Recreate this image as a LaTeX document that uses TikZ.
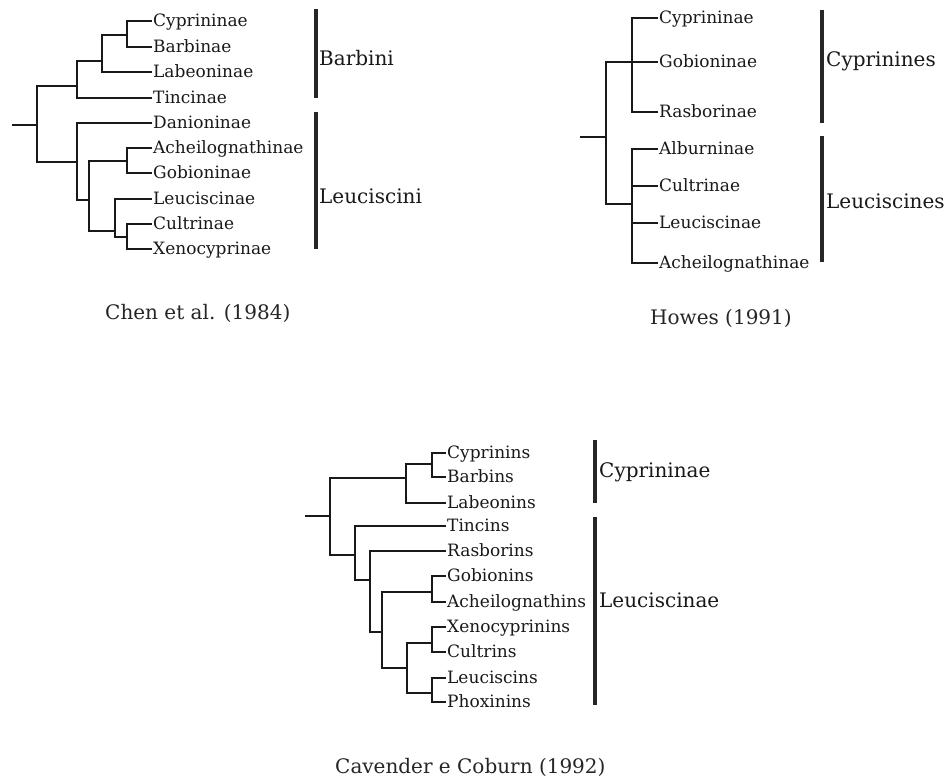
\documentclass[tikz,border=0pt]{standalone}
\usepackage{fontspec}
\setmainfont{DejaVu Serif}
\newcommand\leaffont{\fontsize{17}{20}\selectfont}
\newcommand\grpfont{\fontsize{20}{24}\selectfont}
\newcommand\myleaf[4]{\coordinate (#1) at (#2,#3); \node[leafnode] (#1t) at ([xshift=1pt,yshift=-5pt]#1) {#4};}
\tikzset{
  branch/.style={draw=black!90, line width=1.8pt},
  grpbar/.style={draw=black!85, line width=3.8pt},
  leafnode/.style={anchor=base west, inner sep=0pt, font=\leaffont, text=black!90},
  grplabel/.style={anchor=base west, inner sep=0pt, font=\grpfont, text=black!90},
  caption/.style={anchor=base west, inner sep=0pt, font=\grpfont, text=black!85}
}
\begin{document}
\begin{tikzpicture}[x=1pt,y=-1pt]
\fill[white] (0,0) rectangle (946,777);
\useasboundingbox (0,0) rectangle (946,777);

% ---------------- Tree 1: Chen et al. (1984)
\coordinate (r1s) at (12,125);
\coordinate (r1) at (37,125);
\coordinate (a1) at (77,86);
\coordinate (b1) at (102,61);
\coordinate (c1) at (127,35);
\coordinate (d1) at (77,162);
\coordinate (e1) at (89,200);
\coordinate (f1) at (127,161);
\coordinate (g1) at (115,231);
\coordinate (h1) at (127,237);
\myleaf{l1a}{152}{21}{Cyprininae}
\myleaf{l1b}{152}{47}{Barbinae}
\myleaf{l1c}{152}{72}{Labeoninae}
\myleaf{l1d}{152}{98}{Tincinae}
\myleaf{l1e}{152}{123}{Danioninae}
\myleaf{l1f}{152}{148}{Acheilognathinae}
\myleaf{l1g}{152}{173}{Gobioninae}
\myleaf{l1h}{152}{199}{Leuciscinae}
\myleaf{l1i}{152}{224}{Cultrinae}
\myleaf{l1j}{152}{249}{Xenocyprinae}
\draw[branch] (r1s) -- (r1);
\draw[branch] (r1) |- (a1);
\draw[branch] (r1) |- (d1);
\draw[branch] (a1) |- (b1);
\draw[branch] (a1) |- (l1d);
\draw[branch] (b1) |- (c1);
\draw[branch] (b1) |- (l1c);
\draw[branch] (c1) |- (l1a);
\draw[branch] (c1) |- (l1b);
\draw[branch] (d1) |- (l1e);
\draw[branch] (d1) |- (e1);
\draw[branch] (e1) |- (f1);
\draw[branch] (e1) |- (g1);
\draw[branch] (f1) |- (l1f);
\draw[branch] (f1) |- (l1g);
\draw[branch] (g1) |- (l1h);
\draw[branch] (g1) |- (h1);
\draw[branch] (h1) |- (l1i);
\draw[branch] (h1) |- (l1j);
\coordinate (bar1at) at (316,9);  \coordinate (bar1ab) at (316,98);
\coordinate (bar1bt) at (316,112); \coordinate (bar1bb) at (316,249);
\draw[grpbar] (bar1at) -- (bar1ab);
\draw[grpbar] (bar1bt) -- (bar1bb);
\node[grplabel] (g1a) at (319,65) {Barbini};
\node[grplabel] (g1b) at (319,203) {Leuciscini};
\node[caption] (cap1) at (105,319) {Chen et al. (1984)};

% ---------------- Tree 2: Howes (1991)
\coordinate (r2s) at (580,137);
\coordinate (r2) at (606,137);
\coordinate (p2) at (632,62);
\coordinate (q2) at (632,204);
\myleaf{l2a}{658}{18}{Cyprininae}
\myleaf{l2b}{658}{62}{Gobioninae}
\myleaf{l2c}{658}{112}{Rasborinae}
\myleaf{l2d}{658}{149}{Alburninae}
\myleaf{l2e}{658}{186}{Cultrinae}
\myleaf{l2f}{658}{223}{Leuciscinae}
\myleaf{l2g}{658}{263}{Acheilognathinae}
\draw[branch] (r2s) -- (r2);
\draw[branch] (r2) |- (p2);
\draw[branch] (r2) |- (q2);
\draw[branch] (p2) |- (l2a);
\draw[branch] (p2) |- (l2b);
\draw[branch] (p2) |- (l2c);
\draw[branch] (q2) |- (l2d);
\draw[branch] (q2) |- (l2e);
\draw[branch] (q2) |- (l2f);
\draw[branch] (q2) |- (l2g);
\coordinate (bar2at) at (822,10);  \coordinate (bar2ab) at (822,123);
\coordinate (bar2bt) at (822,136); \coordinate (bar2bb) at (822,262);
\draw[grpbar] (bar2at) -- (bar2ab);
\draw[grpbar] (bar2bt) -- (bar2bb);
\node[grplabel] (g2a) at (826,66) {Cyprinines};
\node[grplabel] (g2b) at (826,208) {Leuciscines};
\node[caption] (cap2) at (650,324) {Howes (1991)};

% ---------------- Tree 3: Cavender e Coburn (1992)
\coordinate (r3s) at (305,516);
\coordinate (r3) at (330,516);
\coordinate (u3) at (406,478);
\coordinate (v3) at (432,464);
\coordinate (w3) at (355,555);
\coordinate (x3) at (370,580);
\coordinate (y3) at (382,632);
\coordinate (z31) at (432,592);
\coordinate (z32) at (407,668);
\coordinate (z33) at (432,643);
\coordinate (z34) at (432,693);
\myleaf{l3a}{446}{453}{Cyprinins}
\myleaf{l3b}{446}{477}{Barbins}
\myleaf{l3c}{446}{503}{Labeonins}
\myleaf{l3d}{446}{526}{Tincins}
\myleaf{l3e}{446}{551}{Rasborins}
\myleaf{l3f}{446}{576}{Gobionins}
\myleaf{l3g}{446}{602}{Acheilognathins}
\myleaf{l3h}{446}{627}{Xenocyprinins}
\myleaf{l3i}{446}{652}{Cultrins}
\myleaf{l3j}{446}{678}{Leuciscins}
\myleaf{l3k}{446}{702}{Phoxinins}
\draw[branch] (r3s) -- (r3);
\draw[branch] (r3) |- (u3);
\draw[branch] (r3) |- (w3);
\draw[branch] (u3) |- (v3);
\draw[branch] (u3) |- (l3c);
\draw[branch] (v3) |- (l3a);
\draw[branch] (v3) |- (l3b);
\draw[branch] (w3) |- (l3d);
\draw[branch] (w3) |- (x3);
\draw[branch] (x3) |- (l3e);
\draw[branch] (x3) |- (y3);
\draw[branch] (y3) |- (z31);
\draw[branch] (y3) |- (z32);
\draw[branch] (z31) |- (l3f);
\draw[branch] (z31) |- (l3g);
\draw[branch] (z32) |- (z33);
\draw[branch] (z32) |- (z34);
\draw[branch] (z33) |- (l3h);
\draw[branch] (z33) |- (l3i);
\draw[branch] (z34) |- (l3j);
\draw[branch] (z34) |- (l3k);
\coordinate (bar3at) at (595,440); \coordinate (bar3ab) at (595,503);
\coordinate (bar3bt) at (595,517); \coordinate (bar3bb) at (595,705);
\draw[grpbar] (bar3at) -- (bar3ab);
\draw[grpbar] (bar3bt) -- (bar3bb);
\node[grplabel] (g3a) at (599,477) {Cyprininae};
\node[grplabel] (g3b) at (599,607) {Leuciscinae};
\node[caption] (cap3) at (335,773) {Cavender e Coburn (1992)};
\end{tikzpicture}
\end{document}
